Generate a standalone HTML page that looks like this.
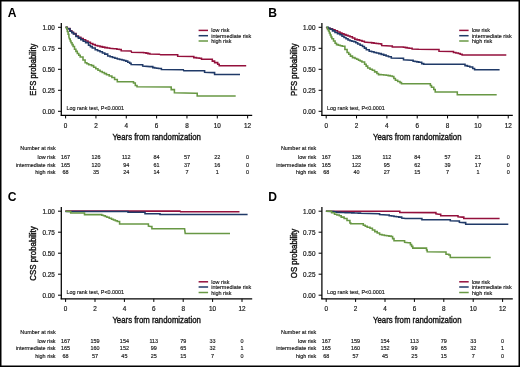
<!DOCTYPE html>
<html><head><meta charset="utf-8"><style>
html,body{margin:0;padding:0;background:#fff;}
body{width:520px;height:367px;overflow:hidden;position:relative;}
svg{position:absolute;left:0;top:0;display:block;will-change:transform;}
text{font-family:"Liberation Sans", sans-serif;}
.L{fill:#000;}
.tk{fill:#1a1a1a;stroke:#1a1a1a;stroke-width:0.2px;}
.tt{fill:#111;stroke:#111;stroke-width:0.38px;}
.sm{fill:#1a1a1a;stroke:#1a1a1a;stroke-width:0.16px;}
</style></head><body>
<svg width="520" height="367" viewBox="0 0 520 367">
<rect x="0" y="0" width="520" height="367" fill="#000"/>
<rect x="1.5" y="1.5" width="517" height="364" fill="#fff"/>
<text class="L" x="7.70" y="17.40" font-size="12.10" font-weight="bold">A</text>
<path d="M61.30 23.10 V115.85" stroke="#000" stroke-width="1.25" fill="none"/>
<path d="M60.70 115.25 H252.20" stroke="#000" stroke-width="1.25" fill="none"/>
<path d="M58.00 111.30 H61.30" stroke="#000" stroke-width="1" fill="none"/>
<text class="tk" x="54.85" y="113.70" font-size="6.35" text-anchor="end">0.00</text>
<path d="M58.00 90.30 H61.30" stroke="#000" stroke-width="1" fill="none"/>
<text class="tk" x="54.85" y="92.70" font-size="6.35" text-anchor="end">0.25</text>
<path d="M58.00 69.30 H61.30" stroke="#000" stroke-width="1" fill="none"/>
<text class="tk" x="54.85" y="71.70" font-size="6.35" text-anchor="end">0.50</text>
<path d="M58.00 48.30 H61.30" stroke="#000" stroke-width="1" fill="none"/>
<text class="tk" x="54.85" y="50.70" font-size="6.35" text-anchor="end">0.75</text>
<path d="M58.00 27.30 H61.30" stroke="#000" stroke-width="1" fill="none"/>
<text class="tk" x="54.85" y="29.70" font-size="6.35" text-anchor="end">1.00</text>
<path d="M65.60 115.25 V118.45" stroke="#000" stroke-width="1" fill="none"/>
<text class="tk" x="65.60" y="127.50" font-size="6.35" text-anchor="middle">0</text>
<path d="M95.94 115.25 V118.45" stroke="#000" stroke-width="1" fill="none"/>
<text class="tk" x="95.94" y="127.50" font-size="6.35" text-anchor="middle">2</text>
<path d="M126.28 115.25 V118.45" stroke="#000" stroke-width="1" fill="none"/>
<text class="tk" x="126.28" y="127.50" font-size="6.35" text-anchor="middle">4</text>
<path d="M156.62 115.25 V118.45" stroke="#000" stroke-width="1" fill="none"/>
<text class="tk" x="156.62" y="127.50" font-size="6.35" text-anchor="middle">6</text>
<path d="M186.96 115.25 V118.45" stroke="#000" stroke-width="1" fill="none"/>
<text class="tk" x="186.96" y="127.50" font-size="6.35" text-anchor="middle">8</text>
<path d="M217.30 115.25 V118.45" stroke="#000" stroke-width="1" fill="none"/>
<text class="tk" x="217.30" y="127.50" font-size="6.35" text-anchor="middle">10</text>
<path d="M247.64 115.25 V118.45" stroke="#000" stroke-width="1" fill="none"/>
<text class="tk" x="247.64" y="127.50" font-size="6.35" text-anchor="middle">12</text>
<text class="tt" x="112.40" y="139.70" font-size="9.00" textLength="88.50" lengthAdjust="spacingAndGlyphs">Years from randomization</text>
<text class="tt" transform="translate(36.00 69.60) rotate(-90)" x="0" y="0" font-size="8.3" text-anchor="middle" textLength="52.10" lengthAdjust="spacingAndGlyphs">EFS probability</text>
<text class="sm" x="66.50" y="109.60" font-size="5.45" textLength="57.60" lengthAdjust="spacingAndGlyphs">Log rank test, P&lt;0.0001</text>
<path d="M65.60 27.30 L67.00 27.30 L67.00 28.60 L70.00 28.60 L70.00 30.80 L71.75 30.80 L71.75 32.20 L73.50 32.20 L73.50 33.60 L76.00 33.60 L76.00 36.00 L78.40 36.00 L78.40 37.25 L80.80 37.25 L80.80 38.50 L83.20 38.50 L83.20 39.75 L85.60 39.75 L85.60 41.00 L88.00 41.00 L88.00 42.20 L90.40 42.20 L90.40 43.40 L92.80 43.40 L92.80 44.45 L95.20 44.45 L95.20 45.50 L97.60 45.50 L97.60 46.05 L100.00 46.05 L100.00 46.60 L102.40 46.60 L102.40 47.10 L104.80 47.10 L104.80 47.60 L107.25 47.60 L107.25 47.90 L109.70 47.90 L109.70 48.20 L114.50 48.80 L116.90 48.80 L116.90 49.15 L119.30 49.15 L119.30 49.50 L121.20 49.50 L121.20 50.80 L131.10 50.90 L131.60 52.20 L141.20 52.50 L143.60 52.50 L143.60 52.80 L146.00 52.80 L146.00 53.10 L147.95 53.10 L147.95 53.60 L149.90 53.60 L149.90 54.10 L159.50 54.20 L160.50 54.80 L176.50 54.80 L177.70 54.80 L177.70 56.20 L192.30 56.50 L193.80 56.50 L193.80 57.60 L196.50 57.60 L196.50 57.90 L199.20 57.90 L199.20 58.20 L201.50 58.20 L201.50 59.30 L211.50 59.30 L212.30 59.30 L212.30 61.10 L214.60 61.10 L214.60 62.60 L217.70 62.60 L217.70 64.20 L219.20 64.20 L219.20 65.70 L246.20 65.70" fill="none" stroke="#94103c" stroke-width="1.55" stroke-linejoin="miter"/>
<path d="M65.60 27.30 L67.00 27.30 L67.00 28.80 L70.00 28.80 L70.00 31.20 L71.75 31.20 L71.75 32.60 L73.50 32.60 L73.50 34.00 L76.00 34.00 L76.00 36.50 L78.40 36.50 L78.40 38.10 L80.80 38.10 L80.80 39.70 L83.20 39.70 L83.20 41.15 L85.60 41.15 L85.60 42.60 L88.50 42.60 L88.50 45.30 L90.40 45.30 L90.40 46.60 L92.30 46.60 L92.30 47.90 L95.20 47.90 L95.20 49.80 L97.60 49.80 L97.60 50.75 L100.00 50.75 L100.00 51.70 L102.40 51.70 L102.40 52.90 L104.80 52.90 L104.80 54.10 L107.70 54.10 L107.70 56.00 L110.10 56.00 L110.10 56.70 L112.50 56.70 L112.50 57.40 L114.90 57.40 L114.90 58.20 L117.30 58.20 L117.30 59.00 L119.65 59.00 L119.65 59.45 L122.00 59.45 L122.00 59.90 L123.90 59.90 L123.90 60.50 L125.80 60.50 L125.80 61.10 L127.75 61.10 L127.75 62.15 L129.70 62.15 L129.70 63.20 L131.10 63.20 L131.10 64.40 L141.20 64.70 L142.70 64.70 L142.70 66.10 L149.90 66.60 L152.80 66.60 L152.80 67.60 L154.70 67.60 L154.70 67.90 L156.60 67.90 L156.60 68.20 L158.50 68.20 L158.50 68.50 L161.40 68.50 L161.40 69.50 L183.30 69.70 L183.80 70.80 L203.10 70.80 L204.60 70.80 L204.60 72.30 L213.80 72.60 L214.60 72.60 L214.60 74.50 L240.00 74.50" fill="none" stroke="#203a68" stroke-width="1.55" stroke-linejoin="miter"/>
<path d="M65.60 27.30 L66.40 27.30 L66.40 28.20 L67.30 28.20 L67.30 31.40 L68.10 31.40 L68.10 34.20 L68.90 34.20 L68.90 36.90 L69.50 39.00 L70.25 39.00 L70.25 40.90 L71.00 40.90 L71.00 42.80 L72.05 42.80 L72.05 44.60 L73.10 44.60 L73.10 46.40 L74.50 46.40 L74.50 49.20 L75.90 49.20 L75.90 51.35 L77.30 51.35 L77.30 53.50 L78.75 53.50 L78.75 55.25 L80.20 55.25 L80.20 57.00 L83.00 57.00 L83.00 59.90 L85.10 59.90 L85.10 62.70 L86.90 62.70 L86.90 63.75 L88.70 63.75 L88.70 64.80 L91.50 64.80 L91.50 65.60 L93.65 65.60 L93.65 67.20 L95.80 67.20 L95.80 68.80 L97.95 68.80 L97.95 70.15 L100.10 70.15 L100.10 71.50 L102.23 71.50 L102.23 72.57 L104.37 72.57 L104.37 73.63 L106.50 73.63 L106.50 74.70 L109.20 74.70 L109.20 76.05 L111.90 76.05 L111.90 77.40 L114.60 77.40 L114.60 79.55 L117.30 79.55 L117.30 81.70 L132.40 81.70 L133.50 81.70 L133.50 83.00 L135.30 83.00 L135.30 85.40 L137.00 85.40 L137.00 86.80 L169.10 87.10 L171.20 87.10 L171.20 89.60 L174.40 89.60 L174.40 92.80 L195.50 93.20 L197.20 93.20 L197.20 96.00 L235.70 96.00" fill="none" stroke="#689844" stroke-width="1.55" stroke-linejoin="miter"/>
<path d="M198.60 30.40 H208.00" stroke="#94103c" stroke-width="1.5" fill="none"/>
<text class="sm" x="211.30" y="32.40" font-size="5.45">low risk</text>
<path d="M198.60 35.70 H208.00" stroke="#203a68" stroke-width="1.5" fill="none"/>
<text class="sm" x="211.30" y="37.70" font-size="5.45">intermediate risk</text>
<path d="M198.60 41.00 H208.00" stroke="#689844" stroke-width="1.5" fill="none"/>
<text class="sm" x="211.30" y="43.00" font-size="5.45">high risk</text>
<text class="sm" x="20.30" y="149.80" font-size="5.45">Number at risk</text>
<text class="sm" x="55.60" y="158.80" font-size="5.45" text-anchor="end">low risk</text>
<text class="sm" x="65.60" y="158.80" font-size="5.45" text-anchor="middle">167</text>
<text class="sm" x="95.94" y="158.80" font-size="5.45" text-anchor="middle">126</text>
<text class="sm" x="126.28" y="158.80" font-size="5.45" text-anchor="middle">112</text>
<text class="sm" x="156.62" y="158.80" font-size="5.45" text-anchor="middle">84</text>
<text class="sm" x="186.96" y="158.80" font-size="5.45" text-anchor="middle">57</text>
<text class="sm" x="217.30" y="158.80" font-size="5.45" text-anchor="middle">22</text>
<text class="sm" x="247.64" y="158.80" font-size="5.45" text-anchor="middle">0</text>
<text class="sm" x="55.60" y="166.50" font-size="5.45" text-anchor="end">intermediate risk</text>
<text class="sm" x="65.60" y="166.50" font-size="5.45" text-anchor="middle">165</text>
<text class="sm" x="95.94" y="166.50" font-size="5.45" text-anchor="middle">120</text>
<text class="sm" x="126.28" y="166.50" font-size="5.45" text-anchor="middle">94</text>
<text class="sm" x="156.62" y="166.50" font-size="5.45" text-anchor="middle">61</text>
<text class="sm" x="186.96" y="166.50" font-size="5.45" text-anchor="middle">37</text>
<text class="sm" x="217.30" y="166.50" font-size="5.45" text-anchor="middle">16</text>
<text class="sm" x="247.64" y="166.50" font-size="5.45" text-anchor="middle">0</text>
<text class="sm" x="55.60" y="173.90" font-size="5.45" text-anchor="end">high risk</text>
<text class="sm" x="65.60" y="173.90" font-size="5.45" text-anchor="middle">68</text>
<text class="sm" x="95.94" y="173.90" font-size="5.45" text-anchor="middle">35</text>
<text class="sm" x="126.28" y="173.90" font-size="5.45" text-anchor="middle">24</text>
<text class="sm" x="156.62" y="173.90" font-size="5.45" text-anchor="middle">14</text>
<text class="sm" x="186.96" y="173.90" font-size="5.45" text-anchor="middle">7</text>
<text class="sm" x="217.30" y="173.90" font-size="5.45" text-anchor="middle">1</text>
<text class="sm" x="247.64" y="173.90" font-size="5.45" text-anchor="middle">0</text>
<text class="L" x="268.30" y="17.40" font-size="12.10" font-weight="bold">B</text>
<path d="M321.90 23.10 V115.85" stroke="#000" stroke-width="1.25" fill="none"/>
<path d="M321.30 115.25 H512.80" stroke="#000" stroke-width="1.25" fill="none"/>
<path d="M318.60 111.30 H321.90" stroke="#000" stroke-width="1" fill="none"/>
<text class="tk" x="315.45" y="113.70" font-size="6.35" text-anchor="end">0.00</text>
<path d="M318.60 90.30 H321.90" stroke="#000" stroke-width="1" fill="none"/>
<text class="tk" x="315.45" y="92.70" font-size="6.35" text-anchor="end">0.25</text>
<path d="M318.60 69.30 H321.90" stroke="#000" stroke-width="1" fill="none"/>
<text class="tk" x="315.45" y="71.70" font-size="6.35" text-anchor="end">0.50</text>
<path d="M318.60 48.30 H321.90" stroke="#000" stroke-width="1" fill="none"/>
<text class="tk" x="315.45" y="50.70" font-size="6.35" text-anchor="end">0.75</text>
<path d="M318.60 27.30 H321.90" stroke="#000" stroke-width="1" fill="none"/>
<text class="tk" x="315.45" y="29.70" font-size="6.35" text-anchor="end">1.00</text>
<path d="M326.20 115.25 V118.45" stroke="#000" stroke-width="1" fill="none"/>
<text class="tk" x="326.20" y="127.50" font-size="6.35" text-anchor="middle">0</text>
<path d="M356.54 115.25 V118.45" stroke="#000" stroke-width="1" fill="none"/>
<text class="tk" x="356.54" y="127.50" font-size="6.35" text-anchor="middle">2</text>
<path d="M386.88 115.25 V118.45" stroke="#000" stroke-width="1" fill="none"/>
<text class="tk" x="386.88" y="127.50" font-size="6.35" text-anchor="middle">4</text>
<path d="M417.22 115.25 V118.45" stroke="#000" stroke-width="1" fill="none"/>
<text class="tk" x="417.22" y="127.50" font-size="6.35" text-anchor="middle">6</text>
<path d="M447.56 115.25 V118.45" stroke="#000" stroke-width="1" fill="none"/>
<text class="tk" x="447.56" y="127.50" font-size="6.35" text-anchor="middle">8</text>
<path d="M477.90 115.25 V118.45" stroke="#000" stroke-width="1" fill="none"/>
<text class="tk" x="477.90" y="127.50" font-size="6.35" text-anchor="middle">10</text>
<path d="M508.24 115.25 V118.45" stroke="#000" stroke-width="1" fill="none"/>
<text class="tk" x="508.24" y="127.50" font-size="6.35" text-anchor="middle">12</text>
<text class="tt" x="373.00" y="139.70" font-size="9.00" textLength="88.50" lengthAdjust="spacingAndGlyphs">Years from randomization</text>
<text class="tt" transform="translate(296.60 69.60) rotate(-90)" x="0" y="0" font-size="8.3" text-anchor="middle" textLength="52.60" lengthAdjust="spacingAndGlyphs">PFS probability</text>
<text class="sm" x="327.10" y="109.60" font-size="5.45" textLength="57.60" lengthAdjust="spacingAndGlyphs">Log rank test, P&lt;0.0001</text>
<path d="M326.30 27.30 L326.60 27.80 L328.30 27.80 L328.30 28.30 L330.00 28.30 L330.00 28.80 L332.50 28.80 L332.50 29.80 L335.00 29.80 L335.00 30.80 L337.50 30.80 L337.50 31.95 L340.00 31.95 L340.00 33.10 L342.00 33.10 L342.00 33.85 L344.00 33.85 L344.00 34.60 L346.00 34.60 L346.00 35.30 L348.00 35.30 L348.00 36.00 L350.00 36.00 L350.00 36.80 L352.40 36.80 L352.40 38.00 L354.80 38.00 L354.80 39.20 L357.20 39.20 L357.20 39.85 L359.60 39.85 L359.60 40.50 L362.00 40.50 L362.00 41.30 L364.40 41.30 L364.40 42.10 L369.20 42.40 L371.60 42.40 L371.60 42.85 L374.00 42.85 L374.00 43.30 L376.27 43.30 L376.27 43.53 L378.53 43.53 L378.53 43.77 L380.80 43.77 L380.80 44.00 L381.70 44.00 L381.70 45.50 L390.40 46.00 L392.30 46.00 L392.30 46.90 L401.50 47.00 L403.45 47.00 L403.45 47.30 L405.40 47.30 L405.40 47.60 L407.30 47.60 L407.30 47.95 L409.20 47.95 L409.20 48.30 L412.10 48.30 L412.10 48.90 L418.80 49.20 L437.10 49.50 L439.00 49.50 L439.00 51.20 L451.50 51.50 L453.50 51.50 L453.50 52.50 L455.90 52.50 L455.90 53.00 L458.30 53.00 L458.30 53.50 L460.20 53.50 L460.20 54.25 L462.10 54.25 L462.10 55.00 L506.30 55.00" fill="none" stroke="#94103c" stroke-width="1.55" stroke-linejoin="miter"/>
<path d="M326.30 27.30 L328.15 27.30 L328.15 28.25 L330.00 28.25 L330.00 29.20 L332.50 29.20 L332.50 30.85 L335.00 30.85 L335.00 32.50 L337.50 32.50 L337.50 33.65 L340.00 33.65 L340.00 34.80 L342.00 34.80 L342.00 36.15 L344.00 36.15 L344.00 37.50 L346.00 37.50 L346.00 38.75 L348.00 38.75 L348.00 40.00 L350.00 40.00 L350.00 40.70 L351.90 40.70 L351.90 41.15 L353.80 41.15 L353.80 41.60 L355.75 41.60 L355.75 42.80 L357.70 42.80 L357.70 44.00 L360.10 44.00 L360.10 45.20 L362.50 45.20 L362.50 46.40 L364.40 46.40 L364.40 48.10 L366.30 48.10 L366.30 49.80 L369.20 49.80 L369.20 51.20 L371.60 51.20 L371.60 51.80 L374.00 51.80 L374.00 52.40 L376.40 52.40 L376.40 53.00 L378.80 53.00 L378.80 53.60 L381.25 53.60 L381.25 54.35 L383.70 54.35 L383.70 55.10 L386.10 55.10 L386.10 55.95 L388.50 55.95 L388.50 56.80 L391.30 56.80 L391.30 58.10 L401.50 58.30 L403.50 58.30 L403.50 59.80 L411.20 60.30 L413.10 60.30 L413.10 61.20 L415.00 61.20 L415.00 61.53 L416.90 61.53 L416.90 61.87 L418.80 61.87 L418.80 62.20 L421.70 62.20 L421.70 63.60 L423.70 63.60 L423.70 64.20 L464.00 64.20 L465.00 64.20 L465.00 65.60 L467.40 65.60 L467.40 66.25 L469.80 66.25 L469.80 66.90 L472.70 66.90 L472.70 68.50 L474.60 68.50 L474.60 69.80 L499.60 69.80" fill="none" stroke="#203a68" stroke-width="1.55" stroke-linejoin="miter"/>
<path d="M326.30 27.30 L327.50 27.30 L327.50 29.50 L328.50 29.50 L328.50 31.00 L329.35 31.00 L329.35 33.00 L330.20 33.00 L330.20 35.00 L331.05 35.00 L331.05 36.90 L331.90 36.90 L331.90 38.80 L333.50 38.80 L333.50 41.00 L335.10 41.00 L335.10 43.20 L336.50 43.20 L336.50 44.60 L338.40 44.60 L338.40 45.30 L340.35 45.30 L340.35 45.80 L342.30 45.80 L342.30 46.30 L344.90 46.30 L344.90 49.50 L347.10 49.50 L347.10 52.50 L348.75 52.50 L348.75 54.30 L350.40 54.30 L350.40 56.10 L352.50 56.10 L352.50 57.60 L355.00 57.60 L355.00 58.40 L356.75 58.40 L356.75 59.30 L358.50 59.30 L358.50 60.20 L360.20 60.20 L360.20 61.05 L361.90 61.05 L361.90 61.90 L364.60 61.90 L364.60 64.20 L366.15 64.20 L366.15 66.10 L367.70 66.10 L367.70 68.00 L370.00 68.00 L370.00 69.15 L372.30 69.15 L372.30 70.30 L374.60 70.30 L374.60 71.85 L376.90 71.85 L376.90 73.40 L378.50 73.40 L378.50 74.60 L381.07 74.60 L381.07 74.80 L383.63 74.80 L383.63 75.00 L386.20 75.00 L386.20 75.20 L388.23 75.20 L388.23 75.63 L390.27 75.63 L390.27 76.07 L392.30 76.07 L392.30 76.50 L393.85 76.50 L393.85 78.40 L395.40 78.40 L395.40 80.30 L397.70 80.30 L397.70 81.45 L400.00 81.45 L400.00 82.60 L401.50 82.60 L401.50 83.80 L429.20 83.80 L430.35 83.80 L430.35 85.50 L431.50 85.50 L431.50 87.20 L433.80 87.20 L433.80 89.50 L435.20 89.50 L435.20 91.90 L456.30 91.90 L457.30 91.90 L457.30 94.80 L496.70 94.80" fill="none" stroke="#689844" stroke-width="1.55" stroke-linejoin="miter"/>
<path d="M459.20 30.40 H468.60" stroke="#94103c" stroke-width="1.5" fill="none"/>
<text class="sm" x="471.90" y="32.40" font-size="5.45">low risk</text>
<path d="M459.20 35.70 H468.60" stroke="#203a68" stroke-width="1.5" fill="none"/>
<text class="sm" x="471.90" y="37.70" font-size="5.45">intermediate risk</text>
<path d="M459.20 41.00 H468.60" stroke="#689844" stroke-width="1.5" fill="none"/>
<text class="sm" x="471.90" y="43.00" font-size="5.45">high risk</text>
<text class="sm" x="280.90" y="149.80" font-size="5.45">Number at risk</text>
<text class="sm" x="316.20" y="158.80" font-size="5.45" text-anchor="end">low risk</text>
<text class="sm" x="326.20" y="158.80" font-size="5.45" text-anchor="middle">167</text>
<text class="sm" x="356.54" y="158.80" font-size="5.45" text-anchor="middle">126</text>
<text class="sm" x="386.88" y="158.80" font-size="5.45" text-anchor="middle">112</text>
<text class="sm" x="417.22" y="158.80" font-size="5.45" text-anchor="middle">84</text>
<text class="sm" x="447.56" y="158.80" font-size="5.45" text-anchor="middle">57</text>
<text class="sm" x="477.90" y="158.80" font-size="5.45" text-anchor="middle">21</text>
<text class="sm" x="508.24" y="158.80" font-size="5.45" text-anchor="middle">0</text>
<text class="sm" x="316.20" y="166.50" font-size="5.45" text-anchor="end">intermediate risk</text>
<text class="sm" x="326.20" y="166.50" font-size="5.45" text-anchor="middle">165</text>
<text class="sm" x="356.54" y="166.50" font-size="5.45" text-anchor="middle">122</text>
<text class="sm" x="386.88" y="166.50" font-size="5.45" text-anchor="middle">95</text>
<text class="sm" x="417.22" y="166.50" font-size="5.45" text-anchor="middle">62</text>
<text class="sm" x="447.56" y="166.50" font-size="5.45" text-anchor="middle">39</text>
<text class="sm" x="477.90" y="166.50" font-size="5.45" text-anchor="middle">17</text>
<text class="sm" x="508.24" y="166.50" font-size="5.45" text-anchor="middle">0</text>
<text class="sm" x="316.20" y="173.90" font-size="5.45" text-anchor="end">high risk</text>
<text class="sm" x="326.20" y="173.90" font-size="5.45" text-anchor="middle">68</text>
<text class="sm" x="356.54" y="173.90" font-size="5.45" text-anchor="middle">40</text>
<text class="sm" x="386.88" y="173.90" font-size="5.45" text-anchor="middle">27</text>
<text class="sm" x="417.22" y="173.90" font-size="5.45" text-anchor="middle">15</text>
<text class="sm" x="447.56" y="173.90" font-size="5.45" text-anchor="middle">7</text>
<text class="sm" x="477.90" y="173.90" font-size="5.45" text-anchor="middle">1</text>
<text class="sm" x="508.24" y="173.90" font-size="5.45" text-anchor="middle">0</text>
<text class="L" x="7.70" y="201.30" font-size="12.10" font-weight="bold">C</text>
<path d="M61.30 207.00 V299.35" stroke="#000" stroke-width="1.25" fill="none"/>
<path d="M60.70 298.75 H252.20" stroke="#000" stroke-width="1.25" fill="none"/>
<path d="M58.00 295.20 H61.30" stroke="#000" stroke-width="1" fill="none"/>
<text class="tk" x="54.85" y="297.60" font-size="6.35" text-anchor="end">0.00</text>
<path d="M58.00 274.20 H61.30" stroke="#000" stroke-width="1" fill="none"/>
<text class="tk" x="54.85" y="276.60" font-size="6.35" text-anchor="end">0.25</text>
<path d="M58.00 253.20 H61.30" stroke="#000" stroke-width="1" fill="none"/>
<text class="tk" x="54.85" y="255.60" font-size="6.35" text-anchor="end">0.50</text>
<path d="M58.00 232.20 H61.30" stroke="#000" stroke-width="1" fill="none"/>
<text class="tk" x="54.85" y="234.60" font-size="6.35" text-anchor="end">0.75</text>
<path d="M58.00 211.20 H61.30" stroke="#000" stroke-width="1" fill="none"/>
<text class="tk" x="54.85" y="213.60" font-size="6.35" text-anchor="end">1.00</text>
<path d="M65.60 298.75 V301.95" stroke="#000" stroke-width="1" fill="none"/>
<text class="tk" x="65.60" y="311.40" font-size="6.35" text-anchor="middle">0</text>
<path d="M95.00 298.75 V301.95" stroke="#000" stroke-width="1" fill="none"/>
<text class="tk" x="95.00" y="311.40" font-size="6.35" text-anchor="middle">2</text>
<path d="M124.40 298.75 V301.95" stroke="#000" stroke-width="1" fill="none"/>
<text class="tk" x="124.40" y="311.40" font-size="6.35" text-anchor="middle">4</text>
<path d="M153.80 298.75 V301.95" stroke="#000" stroke-width="1" fill="none"/>
<text class="tk" x="153.80" y="311.40" font-size="6.35" text-anchor="middle">6</text>
<path d="M183.20 298.75 V301.95" stroke="#000" stroke-width="1" fill="none"/>
<text class="tk" x="183.20" y="311.40" font-size="6.35" text-anchor="middle">8</text>
<path d="M212.60 298.75 V301.95" stroke="#000" stroke-width="1" fill="none"/>
<text class="tk" x="212.60" y="311.40" font-size="6.35" text-anchor="middle">10</text>
<path d="M242.00 298.75 V301.95" stroke="#000" stroke-width="1" fill="none"/>
<text class="tk" x="242.00" y="311.40" font-size="6.35" text-anchor="middle">12</text>
<text class="tt" x="112.40" y="323.20" font-size="9.00" textLength="88.50" lengthAdjust="spacingAndGlyphs">Years from randomization</text>
<text class="tt" transform="translate(36.00 253.50) rotate(-90)" x="0" y="0" font-size="8.3" text-anchor="middle" textLength="54.50" lengthAdjust="spacingAndGlyphs">CSS probability</text>
<text class="sm" x="66.50" y="293.50" font-size="5.45" textLength="57.60" lengthAdjust="spacingAndGlyphs">Log rank test, P&lt;0.0001</text>
<path d="M65.40 211.10 L180.00 211.10 L180.50 211.80 L239.50 211.80" fill="none" stroke="#94103c" stroke-width="1.55" stroke-linejoin="miter"/>
<path d="M65.40 211.40 L128.00 211.40 L128.00 212.30 L145.00 212.30 L145.00 213.70 L160.00 213.70 L160.00 214.50 L247.60 214.50" fill="none" stroke="#203a68" stroke-width="1.55" stroke-linejoin="miter"/>
<path d="M65.40 211.30 L69.50 211.40 L70.70 211.40 L70.70 212.90 L82.80 213.00 L84.50 213.00 L84.50 214.60 L100.00 214.60 L101.75 214.60 L101.75 215.20 L103.50 215.20 L103.50 215.80 L105.20 215.80 L105.20 216.50 L106.90 216.50 L106.90 217.20 L109.20 217.20 L109.20 218.20 L111.50 218.20 L111.50 219.20 L113.43 219.20 L113.43 219.97 L115.37 219.97 L115.37 220.73 L117.30 220.73 L117.30 221.50 L119.60 221.50 L119.60 224.00 L146.70 224.00 L148.40 224.00 L148.40 226.10 L150.70 226.50 L151.90 226.50 L151.90 228.80 L184.60 228.80 L185.20 233.40 L230.00 233.40" fill="none" stroke="#689844" stroke-width="1.55" stroke-linejoin="miter"/>
<path d="M198.60 281.80 H208.10" stroke="#94103c" stroke-width="1.5" fill="none"/>
<text class="sm" x="211.30" y="283.80" font-size="5.45">low risk</text>
<path d="M198.60 287.00 H208.10" stroke="#203a68" stroke-width="1.5" fill="none"/>
<text class="sm" x="211.30" y="289.00" font-size="5.45">intermediate risk</text>
<path d="M198.60 292.50 H208.10" stroke="#689844" stroke-width="1.5" fill="none"/>
<text class="sm" x="211.30" y="294.50" font-size="5.45">high risk</text>
<text class="sm" x="20.30" y="333.70" font-size="5.45">Number at risk</text>
<text class="sm" x="55.60" y="342.70" font-size="5.45" text-anchor="end">low risk</text>
<text class="sm" x="65.60" y="342.70" font-size="5.45" text-anchor="middle">167</text>
<text class="sm" x="95.00" y="342.70" font-size="5.45" text-anchor="middle">159</text>
<text class="sm" x="124.40" y="342.70" font-size="5.45" text-anchor="middle">154</text>
<text class="sm" x="153.80" y="342.70" font-size="5.45" text-anchor="middle">113</text>
<text class="sm" x="183.20" y="342.70" font-size="5.45" text-anchor="middle">79</text>
<text class="sm" x="212.60" y="342.70" font-size="5.45" text-anchor="middle">33</text>
<text class="sm" x="242.00" y="342.70" font-size="5.45" text-anchor="middle">0</text>
<text class="sm" x="55.60" y="350.40" font-size="5.45" text-anchor="end">intermediate risk</text>
<text class="sm" x="65.60" y="350.40" font-size="5.45" text-anchor="middle">165</text>
<text class="sm" x="95.00" y="350.40" font-size="5.45" text-anchor="middle">160</text>
<text class="sm" x="124.40" y="350.40" font-size="5.45" text-anchor="middle">152</text>
<text class="sm" x="153.80" y="350.40" font-size="5.45" text-anchor="middle">99</text>
<text class="sm" x="183.20" y="350.40" font-size="5.45" text-anchor="middle">65</text>
<text class="sm" x="212.60" y="350.40" font-size="5.45" text-anchor="middle">32</text>
<text class="sm" x="242.00" y="350.40" font-size="5.45" text-anchor="middle">1</text>
<text class="sm" x="55.60" y="357.80" font-size="5.45" text-anchor="end">high risk</text>
<text class="sm" x="65.60" y="357.80" font-size="5.45" text-anchor="middle">68</text>
<text class="sm" x="95.00" y="357.80" font-size="5.45" text-anchor="middle">57</text>
<text class="sm" x="124.40" y="357.80" font-size="5.45" text-anchor="middle">45</text>
<text class="sm" x="153.80" y="357.80" font-size="5.45" text-anchor="middle">25</text>
<text class="sm" x="183.20" y="357.80" font-size="5.45" text-anchor="middle">15</text>
<text class="sm" x="212.60" y="357.80" font-size="5.45" text-anchor="middle">7</text>
<text class="sm" x="242.00" y="357.80" font-size="5.45" text-anchor="middle">0</text>
<text class="L" x="268.30" y="201.30" font-size="12.10" font-weight="bold">D</text>
<path d="M321.90 207.00 V299.35" stroke="#000" stroke-width="1.25" fill="none"/>
<path d="M321.30 298.75 H512.80" stroke="#000" stroke-width="1.25" fill="none"/>
<path d="M318.60 295.20 H321.90" stroke="#000" stroke-width="1" fill="none"/>
<text class="tk" x="315.45" y="297.60" font-size="6.35" text-anchor="end">0.00</text>
<path d="M318.60 274.20 H321.90" stroke="#000" stroke-width="1" fill="none"/>
<text class="tk" x="315.45" y="276.60" font-size="6.35" text-anchor="end">0.25</text>
<path d="M318.60 253.20 H321.90" stroke="#000" stroke-width="1" fill="none"/>
<text class="tk" x="315.45" y="255.60" font-size="6.35" text-anchor="end">0.50</text>
<path d="M318.60 232.20 H321.90" stroke="#000" stroke-width="1" fill="none"/>
<text class="tk" x="315.45" y="234.60" font-size="6.35" text-anchor="end">0.75</text>
<path d="M318.60 211.20 H321.90" stroke="#000" stroke-width="1" fill="none"/>
<text class="tk" x="315.45" y="213.60" font-size="6.35" text-anchor="end">1.00</text>
<path d="M326.20 298.75 V301.95" stroke="#000" stroke-width="1" fill="none"/>
<text class="tk" x="326.20" y="311.40" font-size="6.35" text-anchor="middle">0</text>
<path d="M355.60 298.75 V301.95" stroke="#000" stroke-width="1" fill="none"/>
<text class="tk" x="355.60" y="311.40" font-size="6.35" text-anchor="middle">2</text>
<path d="M385.00 298.75 V301.95" stroke="#000" stroke-width="1" fill="none"/>
<text class="tk" x="385.00" y="311.40" font-size="6.35" text-anchor="middle">4</text>
<path d="M414.40 298.75 V301.95" stroke="#000" stroke-width="1" fill="none"/>
<text class="tk" x="414.40" y="311.40" font-size="6.35" text-anchor="middle">6</text>
<path d="M443.80 298.75 V301.95" stroke="#000" stroke-width="1" fill="none"/>
<text class="tk" x="443.80" y="311.40" font-size="6.35" text-anchor="middle">8</text>
<path d="M473.20 298.75 V301.95" stroke="#000" stroke-width="1" fill="none"/>
<text class="tk" x="473.20" y="311.40" font-size="6.35" text-anchor="middle">10</text>
<path d="M502.60 298.75 V301.95" stroke="#000" stroke-width="1" fill="none"/>
<text class="tk" x="502.60" y="311.40" font-size="6.35" text-anchor="middle">12</text>
<text class="tt" x="373.00" y="323.20" font-size="9.00" textLength="88.50" lengthAdjust="spacingAndGlyphs">Years from randomization</text>
<text class="tt" transform="translate(296.60 253.50) rotate(-90)" x="0" y="0" font-size="8.3" text-anchor="middle" textLength="49.50" lengthAdjust="spacingAndGlyphs">OS probability</text>
<text class="sm" x="327.10" y="293.50" font-size="5.45" textLength="57.60" lengthAdjust="spacingAndGlyphs">Log rank test, P&lt;0.0001</text>
<path d="M325.90 211.20 L336.00 211.30 L398.80 211.30 L399.80 211.30 L399.80 212.40 L434.40 212.60 L435.90 212.60 L435.90 213.80 L438.80 214.30 L440.70 214.30 L440.70 215.70 L456.50 215.70 L458.00 215.70 L458.00 216.70 L462.30 217.10 L463.80 217.10 L463.80 218.40 L499.60 218.40" fill="none" stroke="#94103c" stroke-width="1.55" stroke-linejoin="miter"/>
<path d="M325.90 211.20 L331.00 211.40 L333.70 211.40 L333.70 211.85 L336.40 211.85 L336.40 212.30 L338.59 212.30 L338.59 212.38 L340.78 212.38 L340.78 212.46 L342.97 212.46 L342.97 212.55 L345.16 212.55 L345.16 212.63 L347.35 212.63 L347.35 212.71 L349.55 212.71 L349.55 212.79 L351.74 212.79 L351.74 212.87 L353.93 212.87 L353.93 212.95 L356.12 212.95 L356.12 213.04 L358.31 213.04 L358.31 213.12 L360.50 213.12 L360.50 213.20 L378.70 213.70 L379.60 213.70 L379.60 214.50 L387.30 214.90 L389.20 214.90 L389.20 215.70 L391.60 215.70 L391.60 216.05 L394.00 216.05 L394.00 216.40 L396.40 216.40 L396.40 216.75 L398.80 216.75 L398.80 217.10 L401.70 217.10 L401.70 218.10 L405.60 218.50 L420.00 218.60 L421.90 218.60 L421.90 219.70 L448.80 219.70 L450.30 219.70 L450.30 220.70 L458.50 221.00 L459.40 221.00 L459.40 222.20 L464.20 222.60 L465.70 222.60 L465.70 224.20 L508.30 224.20" fill="none" stroke="#203a68" stroke-width="1.55" stroke-linejoin="miter"/>
<path d="M325.90 211.20 L330.70 211.30 L331.60 211.30 L331.60 212.80 L334.50 212.80 L334.50 214.20 L336.90 214.20 L336.90 214.95 L339.30 214.95 L339.30 215.70 L341.20 215.70 L341.20 217.10 L344.10 217.10 L344.10 218.50 L347.00 218.50 L347.00 220.50 L349.90 220.50 L349.90 222.90 L350.80 222.90 L350.80 223.80 L360.50 223.80 L363.30 223.80 L363.30 225.30 L365.25 225.30 L365.25 226.25 L367.20 226.25 L367.20 227.20 L370.00 227.20 L370.00 228.30 L372.40 228.30 L372.40 229.95 L374.80 229.95 L374.80 231.60 L377.20 231.60 L377.20 233.05 L379.60 233.05 L379.60 234.50 L382.00 234.50 L382.00 235.00 L384.40 235.00 L384.40 235.50 L386.67 235.50 L386.67 235.80 L388.93 235.80 L388.93 236.10 L391.20 236.10 L391.20 236.40 L392.60 236.40 L392.60 238.60 L394.00 238.60 L394.00 240.80 L402.70 240.80 L404.60 240.80 L404.60 242.20 L408.50 242.70 L410.40 242.70 L410.40 244.60 L411.60 244.60 L411.60 246.35 L412.80 246.35 L412.80 248.10 L425.80 248.10 L426.50 248.10 L426.50 249.95 L427.20 249.95 L427.20 251.80 L445.30 252.10 L446.00 252.10 L446.00 254.30 L448.90 254.30 L448.90 255.00 L450.30 255.00 L450.30 257.40 L490.70 257.40" fill="none" stroke="#689844" stroke-width="1.55" stroke-linejoin="miter"/>
<path d="M459.20 281.80 H468.70" stroke="#94103c" stroke-width="1.5" fill="none"/>
<text class="sm" x="471.90" y="283.80" font-size="5.45">low risk</text>
<path d="M459.20 287.00 H468.70" stroke="#203a68" stroke-width="1.5" fill="none"/>
<text class="sm" x="471.90" y="289.00" font-size="5.45">intermediate risk</text>
<path d="M459.20 292.50 H468.70" stroke="#689844" stroke-width="1.5" fill="none"/>
<text class="sm" x="471.90" y="294.50" font-size="5.45">high risk</text>
<text class="sm" x="280.90" y="333.70" font-size="5.45">Number at risk</text>
<text class="sm" x="316.20" y="342.70" font-size="5.45" text-anchor="end">low risk</text>
<text class="sm" x="326.20" y="342.70" font-size="5.45" text-anchor="middle">167</text>
<text class="sm" x="355.60" y="342.70" font-size="5.45" text-anchor="middle">159</text>
<text class="sm" x="385.00" y="342.70" font-size="5.45" text-anchor="middle">154</text>
<text class="sm" x="414.40" y="342.70" font-size="5.45" text-anchor="middle">113</text>
<text class="sm" x="443.80" y="342.70" font-size="5.45" text-anchor="middle">79</text>
<text class="sm" x="473.20" y="342.70" font-size="5.45" text-anchor="middle">33</text>
<text class="sm" x="502.60" y="342.70" font-size="5.45" text-anchor="middle">0</text>
<text class="sm" x="316.20" y="350.40" font-size="5.45" text-anchor="end">intermediate risk</text>
<text class="sm" x="326.20" y="350.40" font-size="5.45" text-anchor="middle">165</text>
<text class="sm" x="355.60" y="350.40" font-size="5.45" text-anchor="middle">160</text>
<text class="sm" x="385.00" y="350.40" font-size="5.45" text-anchor="middle">152</text>
<text class="sm" x="414.40" y="350.40" font-size="5.45" text-anchor="middle">99</text>
<text class="sm" x="443.80" y="350.40" font-size="5.45" text-anchor="middle">65</text>
<text class="sm" x="473.20" y="350.40" font-size="5.45" text-anchor="middle">32</text>
<text class="sm" x="502.60" y="350.40" font-size="5.45" text-anchor="middle">1</text>
<text class="sm" x="316.20" y="357.80" font-size="5.45" text-anchor="end">high risk</text>
<text class="sm" x="326.20" y="357.80" font-size="5.45" text-anchor="middle">68</text>
<text class="sm" x="355.60" y="357.80" font-size="5.45" text-anchor="middle">57</text>
<text class="sm" x="385.00" y="357.80" font-size="5.45" text-anchor="middle">45</text>
<text class="sm" x="414.40" y="357.80" font-size="5.45" text-anchor="middle">25</text>
<text class="sm" x="443.80" y="357.80" font-size="5.45" text-anchor="middle">15</text>
<text class="sm" x="473.20" y="357.80" font-size="5.45" text-anchor="middle">7</text>
<text class="sm" x="502.60" y="357.80" font-size="5.45" text-anchor="middle">0</text>
</svg>
</body></html>
